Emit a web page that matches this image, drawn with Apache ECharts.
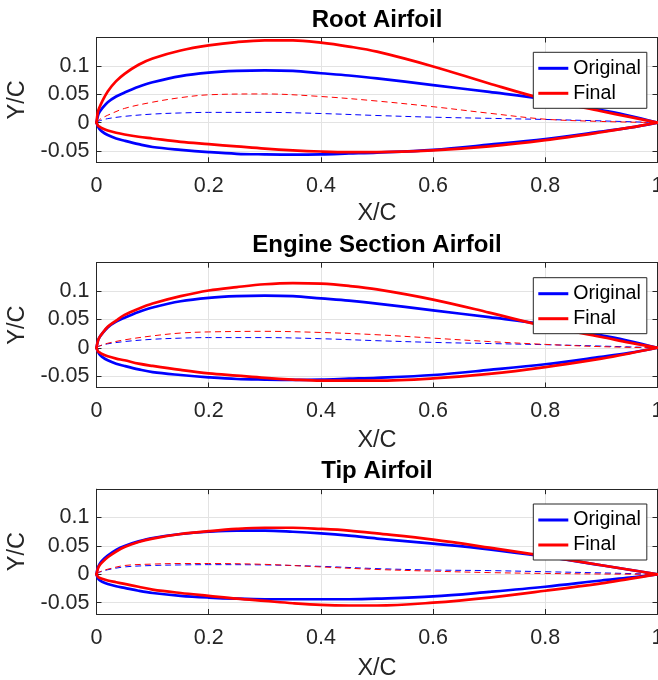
<!DOCTYPE html>
<html><head><meta charset="utf-8">
<script src="https://cdn.jsdelivr.net/npm/echarts@6/dist/echarts.min.js"></script>
<style>html,body{margin:0;padding:0;background:#fff}#c{width:658px;height:680px}</style>
</head><body><div id="c"></div>
<script>
// ---- data ----
const titles = ['Root Airfoil', 'Engine Section Airfoil', 'Tip Airfoil'];
const legendNames = ['Original', 'Final'];
const xTicks = [0, 0.2, 0.4, 0.6, 0.8, 1];

const X = [0, 0.0025, 0.005, 0.01, 0.02, 0.035, 0.05, 0.075, 0.1, 0.15, 0.2, 0.25, 0.3, 0.35, 0.4, 0.45, 0.5, 0.6, 0.7, 0.8, 0.9, 0.95, 1];

const rootOrigUpper = [0, 0.012, 0.018, 0.025, 0.036, 0.046, 0.053, 0.063, 0.071, 0.082, 0.088, 0.091, 0.092, 0.091, 0.087, 0.083, 0.078, 0.066, 0.054, 0.041, 0.022, 0.012, 0];
const rootOrigLower = [0, -0.007, -0.011, -0.016, -0.022, -0.028, -0.032, -0.038, -0.043, -0.048, -0.052, -0.055, -0.056, -0.0565, -0.056, -0.0545, -0.053, -0.048, -0.039, -0.029, -0.016, -0.009, 0];
const rootFinalUpper = [0, 0.019, 0.026, 0.037, 0.055, 0.073, 0.086, 0.102, 0.113, 0.127, 0.136, 0.142, 0.145, 0.145, 0.141, 0.134, 0.125, 0.099, 0.069, 0.041, 0.020, 0.010, 0];
const rootFinalLower = [0, -0.005, -0.007, -0.010, -0.014, -0.018, -0.021, -0.025, -0.028, -0.034, -0.038, -0.042, -0.046, -0.049, -0.051, -0.052, -0.052, -0.049, -0.042, -0.031, -0.017, -0.009, 0];

const engineOrigUpper = rootOrigUpper;
const engineOrigLower = rootOrigLower;
const engineFinalUpper = [0, 0.012, 0.018, 0.025, 0.037, 0.048, 0.058, 0.069, 0.078, 0.091, 0.101, 0.107, 0.112, 0.114, 0.113, 0.109, 0.103, 0.085, 0.062, 0.038, 0.019, 0.009, 0];
const engineFinalLower = [0, -0.006, -0.008, -0.011, -0.015, -0.019, -0.022, -0.028, -0.032, -0.039, -0.045, -0.049, -0.053, -0.056, -0.058, -0.058, -0.058, -0.054, -0.046, -0.034, -0.019, -0.010, 0];

const tipOrigUpper = [0, 0.012, 0.017, 0.024, 0.033, 0.043, 0.050, 0.058, 0.064, 0.071, 0.075, 0.077, 0.077, 0.075, 0.072, 0.068, 0.063, 0.054, 0.044, 0.031, 0.016, 0.008, 0];
const tipOrigLower = [0, -0.007, -0.010, -0.013, -0.017, -0.021, -0.024, -0.029, -0.033, -0.038, -0.041, -0.043, -0.044, -0.044, -0.044, -0.044, -0.043, -0.039, -0.031, -0.022, -0.011, -0.006, 0];
const tipFinalUpper = [0, 0.010, 0.015, 0.021, 0.030, 0.040, 0.048, 0.057, 0.063, 0.071, 0.076, 0.080, 0.082, 0.082, 0.080, 0.077, 0.072, 0.061, 0.047, 0.032, 0.016, 0.008, 0];
const tipFinalLower = [0, -0.004, -0.006, -0.008, -0.011, -0.014, -0.017, -0.022, -0.027, -0.033, -0.038, -0.043, -0.047, -0.051, -0.054, -0.055, -0.055, -0.050, -0.041, -0.029, -0.016, -0.008, 0];

const CX = [0, 0.005, 0.01, 0.02, 0.05, 0.1, 0.15, 0.2, 0.3, 0.4, 0.5, 0.6, 0.7, 0.8, 0.9, 1];
const rootOrigCamber = [0, 0.003, 0.0045, 0.007, 0.011, 0.015, 0.017, 0.018, 0.018, 0.016, 0.0125, 0.0095, 0.0075, 0.0055, 0.003, 0];
const rootFinalCamber = [0, 0.005, 0.008, 0.013, 0.025, 0.036, 0.044, 0.049, 0.0505, 0.046, 0.038, 0.028, 0.0165, 0.006, 0.002, 0];
const engineOrigCamber = rootOrigCamber;
const engineFinalCamber = [0, 0.003, 0.005, 0.008, 0.014, 0.021, 0.026, 0.028, 0.029, 0.027, 0.023, 0.017, 0.011, 0.006, 0.002, 0];
const tipOrigCamber = [0, 0.0035, 0.005, 0.008, 0.013, 0.0155, 0.0165, 0.017, 0.0165, 0.014, 0.010, 0.0075, 0.0065, 0.0045, 0.0025, 0];
const tipFinalCamber = [0, 0.004, 0.006, 0.009, 0.0155, 0.018, 0.019, 0.019, 0.0175, 0.013, 0.0085, 0.0055, 0.003, 0.0015, 0.0005, 0];

const panels = [
  {orig: [rootOrigUpper, rootOrigLower, rootOrigCamber], fin: [rootFinalUpper, rootFinalLower, rootFinalCamber]},
  {orig: [engineOrigUpper, engineOrigLower, engineOrigCamber], fin: [engineFinalUpper, engineFinalLower, engineFinalCamber]},
  {orig: [tipOrigUpper, tipOrigLower, tipOrigCamber], fin: [tipFinalUpper, tipFinalLower, tipFinalCamber]}
];

// ---- layout / style ----
const FONT = '"Liberation Sans", Arial, Helvetica, sans-serif';
const AX = '#262626';
const BLUE = '#0000ff', RED = '#ff0000';
const gridTops = [37.5, 262.7, 489.2];
const gridH = 124.8;
const gridLeft = 96.5, gridW = 561;
const xNameGaps = [39.5, 41.5, 42.5];
const legendTops = [52.3, 277.7, 504];
const titleY = [20, 245, 471.5];

const pair = (xs, ys) => xs.map((x, i) => [x, ys[i]]);

const grids = [], xAxes = [], yAxes = [], series = [], legends = [], graphics = [];
panels.forEach((p, g) => {
  grids.push({left: gridLeft, top: gridTops[g], width: gridW, height: gridH, containLabel: false, outerBoundsMode: 'none'});
  xAxes.push({
    type: 'value', gridIndex: g, position: 'bottom', min: 0, max: 1, interval: 0.2,
    name: 'X/C', nameLocation: 'middle', nameGap: xNameGaps[g],
    nameTextStyle: {fontFamily: FONT, fontSize: 23.5, color: AX},
    axisLine: {show: true, onZero: false, lineStyle: {color: AX, width: 1}},
    axisTick: {show: true, inside: true, length: 5, lineStyle: {color: AX}},
    axisLabel: {show: true, margin: 13, fontFamily: FONT, fontSize: 21.5, color: AX, hideOverlap: false,
      formatter: v => xTicks.indexOf(+v.toFixed(4)) >= 0 ? String(+v.toFixed(4)) : ''},
    splitLine: {show: true, lineStyle: {color: '#e3e3e3', width: 1}}
  });
  xAxes.push({
    type: 'value', gridIndex: g, position: 'top', min: 0, max: 1, interval: 0.2,
    axisLine: {show: true, onZero: false, lineStyle: {color: AX, width: 1}},
    axisTick: {show: true, inside: true, length: 5, lineStyle: {color: AX}},
    axisLabel: {show: false}, splitLine: {show: false}
  });
  yAxes.push({
    type: 'value', gridIndex: g, position: 'left', min: -0.07, max: 0.15, splitNumber: 5,
    name: 'Y/C', nameLocation: 'middle', nameGap: 66, nameRotate: 90,
    nameTextStyle: {fontFamily: FONT, fontSize: 23.5, color: AX},
    axisLine: {show: true, onZero: false, lineStyle: {color: AX, width: 1}},
    axisTick: {show: true, inside: true, length: 5, lineStyle: {color: AX}},
    axisLabel: {show: true, margin: 7, fontFamily: FONT, fontSize: 21.5, color: AX,
      showMinLabel: false, showMaxLabel: false},
    splitLine: {show: true, lineStyle: {color: '#e3e3e3', width: 1}}
  });
  yAxes.push({
    type: 'value', gridIndex: g, position: 'right', min: -0.07, max: 0.15, splitNumber: 5,
    axisLine: {show: true, onZero: false, lineStyle: {color: AX, width: 1}},
    axisTick: {show: true, inside: true, length: 5, lineStyle: {color: AX}},
    axisLabel: {show: false}, splitLine: {show: false}
  });

  const xi = 2 * g, yi = 2 * g;
  const addSet = (arrs, name, color) => {
    [0, 1].forEach(k => series.push({
      type: 'line', name: name, xAxisIndex: xi, yAxisIndex: yi,
      data: pair(X, arrs[k]), showSymbol: false, symbol: 'none',
      smooth: 0.35,
      lineStyle: {color: color, width: 2.7, cap: 'round', join: 'round'},
      itemStyle: {color: color}, silent: true, z: 3
    }));
    series.push({
      type: 'line', name: name + ' camber', xAxisIndex: xi, yAxisIndex: yi,
      data: pair(CX, arrs[2]), showSymbol: false, symbol: 'none',
      smooth: 0.35,
      lineStyle: {color: color, width: 1, type: [6, 4]},
      itemStyle: {color: color}, silent: true, z: 3
    });
  };
  addSet(p.orig, legendNames[0], BLUE);
  addSet(p.fin, legendNames[1], RED);

  legends.push({
    orient: 'vertical', left: 533.3, top: legendTops[g],
    data: legendNames.slice(), icon: 'rect', itemWidth: 30, itemHeight: 3, itemGap: 5,
    padding: [6, 6, 5, 5], backgroundColor: '#ffffff', borderColor: AX, borderWidth: 1, borderRadius: 0,
    textStyle: {fontFamily: FONT, fontSize: 19.6, color: '#000', lineHeight: 20},
    selectedMode: false, z: 10
  });

  graphics.push({
    type: 'text', x: gridLeft + gridW / 2, y: titleY[g], z: 10,
    style: {text: titles[g], font: 'bold 24px ' + FONT, fill: '#000', align: 'center', verticalAlign: 'middle'}
  });
});

const chart = echarts.init(document.getElementById('c'), null, {renderer: 'canvas'});
chart.setOption({
  animation: false,
  backgroundColor: '#ffffff',
  grid: grids, xAxis: xAxes, yAxis: yAxes, series: series, legend: legends,
  graphic: graphics
});
</script></body></html>
